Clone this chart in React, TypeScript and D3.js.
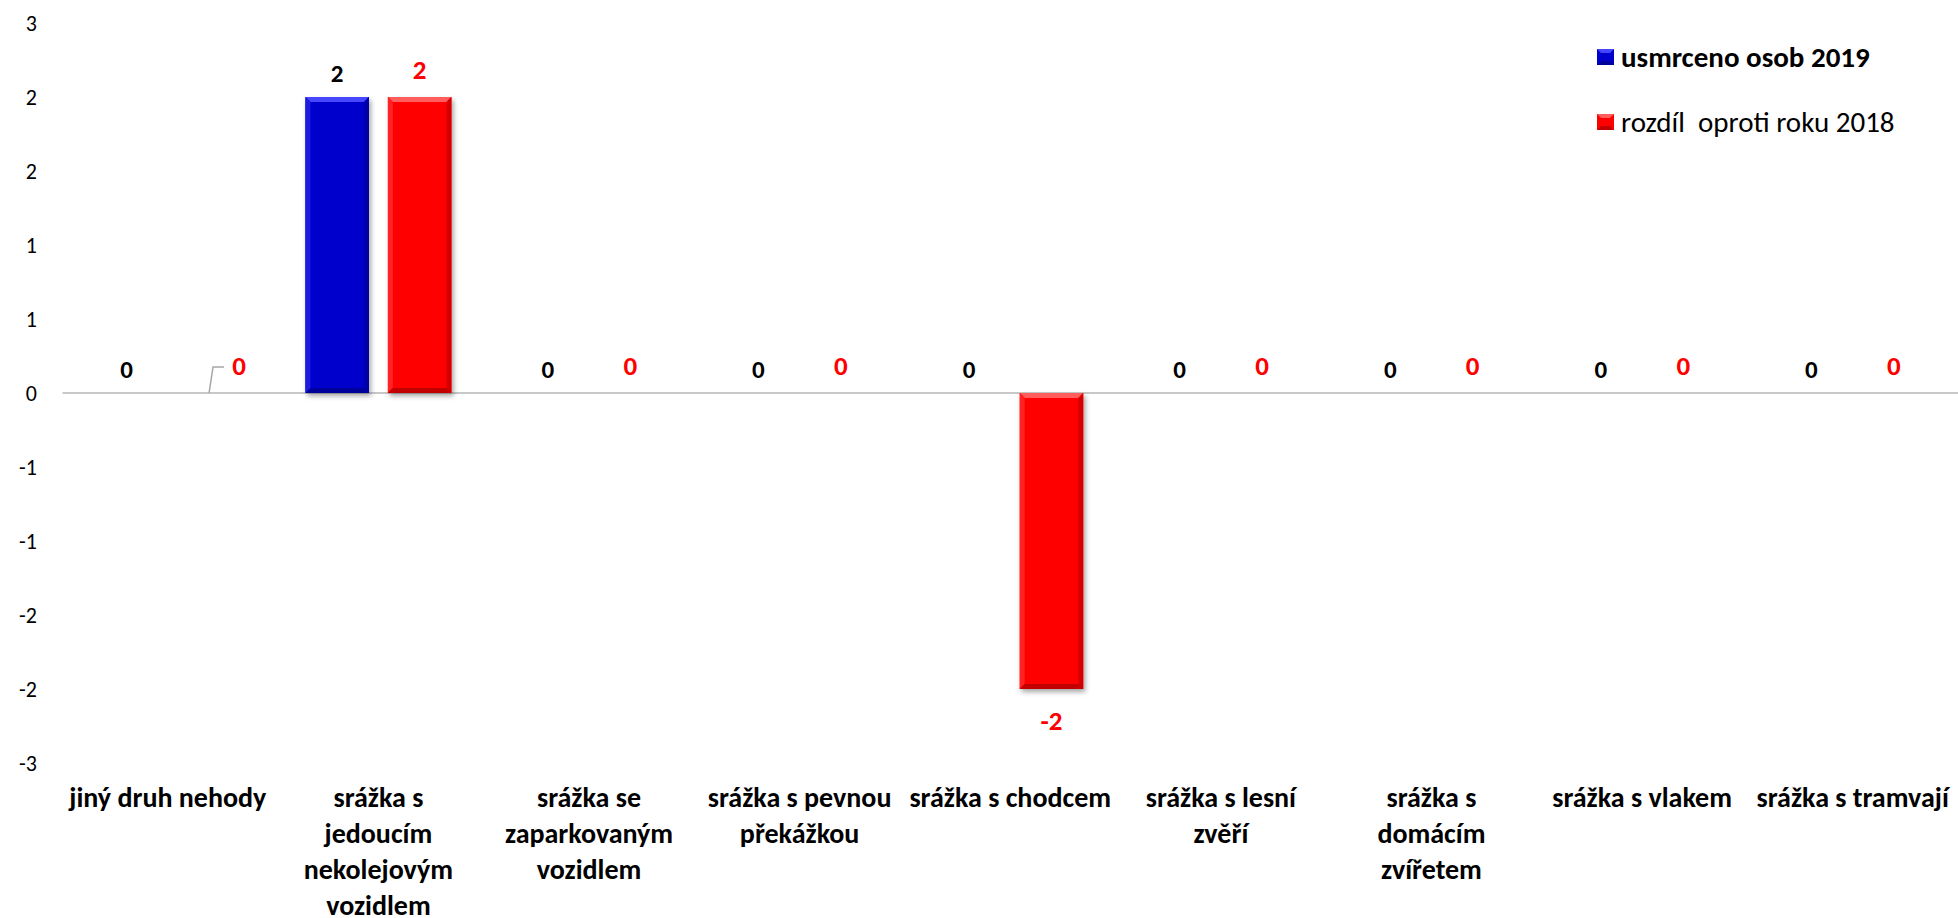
import { useEffect, useRef } from 'react';
import * as d3 from 'd3';

// druh nehody (category labels, wrapped as in the original)
const categories = [
  'jiný druh nehody',
  'srážka s jedoucím nekolejovým vozidlem',
  'srážka se zaparkovaným vozidlem',
  'srážka s pevnou překážkou',
  'srážka s chodcem',
  'srážka s lesní zvěří',
  'srážka s domácím zvířetem',
  'srážka s vlakem',
  'srážka s tramvají',
];
const categoryLines = [
  ['jiný druh nehody'],
  ['srážka s', 'jedoucím', 'nekolejovým', 'vozidlem'],
  ['srážka se', 'zaparkovaným', 'vozidlem'],
  ['srážka s pevnou', 'překážkou'],
  ['srážka s chodcem'],
  ['srážka s lesní', 'zvěří'],
  ['srážka s', 'domácím', 'zvířetem'],
  ['srážka s vlakem'],
  ['srážka s tramvají'],
];

const seriesNames = ['usmrceno osob 2019', 'rozdíl  oproti roku 2018'];
const killed2019 = [0, 2, 0, 0, 0, 0, 0, 0, 0];
const diffVs2018 = [0, 2, 0, 0, -2, 0, 0, 0, 0];

const yTickValues = [2.5, 2, 1.5, 1, 0.5, 0, -0.5, -1, -1.5, -2, -2.5];
const yTickLabels = ['3', '2', '2', '1', '1', '0', '-1', '-1', '-2', '-2', '-3'];

const W = 1958;
const H = 918;
const FONT = "Carlito, Calibri, Lato, 'Open Sans', sans-serif";

const palette = [
  { base: '#0000cc', top: '#4646ff', left: '#1a1ae0', right: '#0000a8', bottom: '#00009a', label: '#000000', size: 25 },
  { base: '#ff0000', top: '#ff5c5c', left: '#ff2020', right: '#d40000', bottom: '#c20000', label: '#ff0000', size: 27 },
];

export default function App() {
  const svgRef = useRef<SVGSVGElement>(null);

  useEffect(() => {
    if (!svgRef.current) return;
    const svg = d3.select(svgRef.current);
    svg.selectAll('*').remove();

    const defs = svg.append('defs');
    const shadow = defs
      .append('filter')
      .attr('id', 'barShadow')
      .attr('x', '-20%')
      .attr('y', '-20%')
      .attr('width', '140%')
      .attr('height', '140%');
    shadow
      .append('feDropShadow')
      .attr('dx', 2)
      .attr('dy', 3)
      .attr('stdDeviation', 2.5)
      .attr('flood-color', '#000')
      .attr('flood-opacity', 0.35);

    // scales
    const x0 = d3.scaleBand<string>().domain(categories).range([62.5, W]).padding(0);
    const groupWidth = 146;
    const x1 = d3.scaleBand<number>().domain([0, 1]).range([0, groupWidth]).paddingInner(0.23);
    const y = d3.scaleLinear().domain([-2.5, 2.5]).range([763, 23]);

    const barX = (i: number, s: number) =>
      (x0(categories[i]) as number) + (x0.bandwidth() - groupWidth) / 2 + (x1(s) as number);
    const bw = x1.bandwidth();

    // y tick labels (no axis line)
    svg
      .append('g')
      .selectAll('text')
      .data(yTickValues)
      .join('text')
      .attr('x', 37)
      .attr('y', (d) => y(d))
      .attr('text-anchor', 'end')
      .attr('dominant-baseline', 'central')
      .attr('font-family', FONT)
      .attr('font-size', 22)
      .attr('fill', '#000')
      .text((_, i) => yTickLabels[i]);

    // zero line
    svg
      .append('line')
      .attr('x1', 62.5)
      .attr('x2', W)
      .attr('y1', y(0))
      .attr('y2', y(0))
      .attr('stroke', '#c8c8c8')
      .attr('stroke-width', 2);

    // bevelled bars
    const series = [killed2019, diffVs2018];
    series.forEach((values, s) => {
      const c = palette[s];
      const g = svg.append('g');
      values.forEach((v, i) => {
        if (v === 0) return;
        const x = barX(i, s);
        const top = Math.min(y(v), y(0));
        const bot = Math.max(y(v), y(0));
        const h = bot - top;
        const b = 5;
        const bar = g.append('g').attr('filter', 'url(#barShadow)');
        bar.append('rect').attr('x', x).attr('y', top).attr('width', bw).attr('height', h).attr('fill', c.base);
        bar
          .append('polygon')
          .attr('points', `${x},${top} ${x + bw},${top} ${x + bw - b},${top + b} ${x + b},${top + b}`)
          .attr('fill', c.top);
        bar
          .append('polygon')
          .attr('points', `${x},${top} ${x + b},${top + b} ${x + b},${bot - b} ${x},${bot}`)
          .attr('fill', c.left);
        bar
          .append('polygon')
          .attr('points', `${x + bw},${top} ${x + bw - b},${top + b} ${x + bw - b},${bot - b} ${x + bw},${bot}`)
          .attr('fill', c.right);
        bar
          .append('polygon')
          .attr('points', `${x},${bot} ${x + b},${bot - b} ${x + bw - b},${bot - b} ${x + bw},${bot}`)
          .attr('fill', c.bottom);
      });
    });

    // data labels
    series.forEach((values, s) => {
      const c = palette[s];
      values.forEach((v, i) => {
        let cx = barX(i, s) + bw / 2;
        const cy = v < 0 ? y(v) + 31 : y(v) - (s === 0 ? 24 : 28);
        if (s === 1 && i === 0) {
          // label moved aside with a leader line
          const y0 = y(0);
          svg
            .append('path')
            .attr('d', `M${cx},${y0} L${cx + 4},${y0 - 26} L${cx + 15},${y0 - 26}`)
            .attr('fill', 'none')
            .attr('stroke', '#a6a6a6')
            .attr('stroke-width', 1.5);
          cx += 30;
        }
        svg
          .append('text')
          .attr('x', cx)
          .attr('y', cy)
          .attr('text-anchor', 'middle')
          .attr('dominant-baseline', 'central')
          .attr('font-family', FONT)
          .attr('font-weight', 'bold')
          .attr('font-size', c.size)
          .attr('fill', c.label)
          .text(v);
      });
    });

    // category labels
    const cats = svg.append('g');
    categoryLines.forEach((lines, i) => {
      const cx = (x0(categories[i]) as number) + x0.bandwidth() / 2;
      const t = cats
        .append('text')
        .attr('text-anchor', 'middle')
        .attr('font-family', FONT)
        .attr('font-weight', 'bold')
        .attr('font-size', 28)
        .attr('fill', '#000');
      lines.forEach((line, k) => {
        t.append('tspan')
          .attr('x', cx)
          .attr('y', 797 + k * 36)
          .attr('dominant-baseline', 'central')
          .text(line);
      });
    });

    // legend
    const legend = svg.append('g');
    seriesNames.forEach((name, s) => {
      const c = palette[s];
      const ly = 57 + s * 65;
      const m = legend.append('g');
      m.append('rect').attr('x', 1597).attr('y', ly - 8).attr('width', 17).attr('height', 16).attr('fill', c.base);
      m.append('polygon')
        .attr('points', `1597,${ly - 8} 1614,${ly - 8} 1610,${ly - 4} 1601,${ly - 4}`)
        .attr('fill', c.top);
      m.append('polygon')
        .attr('points', `1597,${ly + 8} 1614,${ly + 8} 1610,${ly + 4} 1601,${ly + 4}`)
        .attr('fill', c.bottom);
      legend
        .append('text')
        .attr('x', 1621)
        .attr('y', ly)
        .attr('dominant-baseline', 'central')
        .attr('font-family', FONT)
        .attr('font-weight', s === 0 ? 'bold' : 'normal')
        .attr('font-size', 29)
        .attr('fill', '#000')
        .style('white-space', 'pre')
        .text(name);
    });
  }, []);

  return (
    <svg
      ref={svgRef}
      width={W}
      height={H}
      style={{ position: 'absolute', left: 0, top: 0, display: 'block', background: '#fff' }}
    />
  );
}
